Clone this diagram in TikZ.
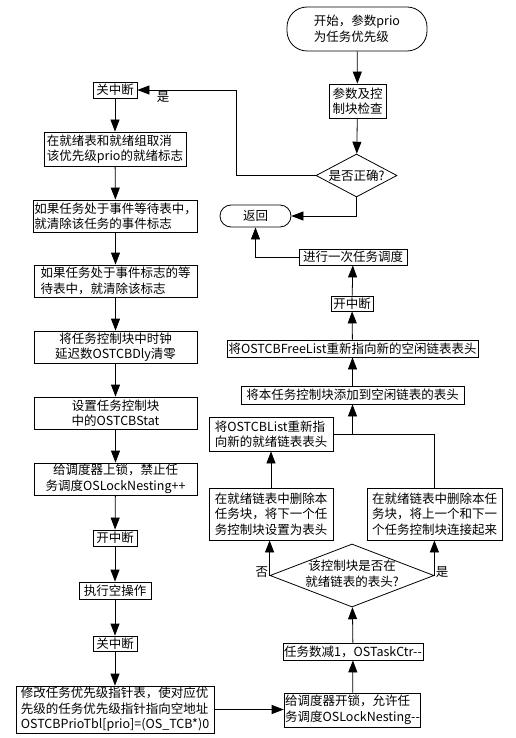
\documentclass[tikz,border=0pt]{standalone}
\usepackage{fontspec}
\setmainfont{Noto Sans CJK SC}
\usetikzlibrary{arrows.meta,shapes.geometric}

\begin{document}
\begin{tikzpicture}[x=1pt,y=1pt,line width=0.8pt,
    every node/.style={inner sep=1pt, font=\fontsize{12.5}{15.5}\selectfont},
    sz/.style 2 args={minimum width=#1pt, minimum height=#2pt},
    blk/.style={draw, rectangle},
    term/.style={draw, rectangle, rounded corners=#1pt},
    dec/.style={draw, diamond, inner sep=0pt},
    arr/.style={-{Triangle[length=12pt,width=9pt]}}]
    \useasboundingbox (0,0) rectangle (516,-738);
    % right column, top
    \node [term=20, sz={140}{44}, align=left] (start) at (357,-29) {开始，参数prio\\为任务优先级};
    \node [blk, sz={57}{34}, align=left] (check) at (357.5,-101) {参数及控\\制块检查};
    \node [dec, sz={81}{43}] (ok) at (356.5,-175.5) {\makebox[0pt]{是否正确?}};
    \node [term=11, sz={71}{22}] (ret) at (255.5,-216) {返回};
    \node [blk, sz={108}{16}] (sched) at (353,-257) {进行一次任务调度};
    \node [blk, sz={42}{15}] (kz1) at (352,-303.5) {开中断};
    \node [blk, sz={251}{17}] (free) at (352.5,-348.5) {将OSTCBFreeList重新指向新的空闲链表表头};
    \node [blk, sz={223}{18}] (add) at (352.5,-395) {将本任务控制块添加到空闲链表的表头};
    \node [blk, sz={124}{34}, align=left] (list) at (271,-434) {将OSTCBList重新指\\向新的就绪链表表头};
    \node [blk, sz={124}{52}, align=left] (delA) at (271,-514) {在就绪链表中删除本\\任务块，将下一个任\\务控制块设置为表头};
    \node [blk, sz={135}{52}, align=left] (delB) at (434.5,-514) {在就绪链表中删除本任\\务块，将上一个和下一\\个任务控制块连接起来};
    \node [dec, sz={164}{63}] (head) at (352,-575.5) {\makebox[0pt]{\begin{tabular}{@{}c@{}}该控制块是否在\\就绪链表的表头?\end{tabular}}};
    \node [blk, sz={140}{17}] (cnt) at (353,-651.5) {任务数减1，OSTaskCtr-{}-};
    \node [blk, sz={133}{34}, align=left] (unlock) at (352.5,-710) {给调度器开锁，允许任\\务调度OSLockNesting-{}-};
    % left column
    \node [blk, sz={44}{16}] (gz1) at (115,-90) {关中断};
    \node [blk, sz={142}{34}, align=left] (clr) at (115,-149) {在就绪表和就绪组取消\\该优先级prio的就绪标志};
    \node [blk, sz={163}{32}, align=left, inner xsep=0.5pt] (evw) at (115.5,-216) {如果任务处于事件等待表中，\\就清除该任务的事件标志};
    \node [blk, sz={163}{32}, align=left, inner xsep=0.5pt] (evf) at (115.5,-281) {如果任务处于事件标志的等\\待表中，就清除该标志};
    \node [blk, sz={163}{32}, align=center] (dly) at (115.5,-347) {将任务控制块中时钟\\延迟数OSTCBDly清零};
    \node [blk, sz={163}{32}, align=center] (stat) at (115.5,-413) {设置任务控制块\\中的OSTCBStat};
    \node [blk, sz={163}{32}, align=center] (lock) at (115.5,-479) {给调度器上锁，禁止任\\务调度OSLockNesting++};
    \node [blk, sz={44}{16}] (kz2) at (115,-538) {开中断};
    \node [blk, sz={72}{17}] (nop) at (115,-590.5) {执行空操作};
    \node [blk, sz={44}{15}] (gz2) at (115,-643.5) {关中断};
    \node [blk, sz={198}{47}, align=left] (prio) at (115,-709.5) {修改任务优先级指针表，使对应优\\先级的任务优先级指针指向空地址\\OSTCBPrioTbl[prio]=(OS\_TCB*)0};
    % connectors
    \draw [arr] (start) -- (check);
    \draw [arr] (check) -- (ok);
    \draw [arr] (ok.west) -- ++(-79,0) |- (gz1.east) node [pos=0.87, below] {是};
    \draw [arr] (ok.south) |- (ret.east);
    \draw [arr] (sched.west) -| (ret.south);
    \draw [arr] (kz1) -- (sched);
    \draw [arr] (free) -- (kz1);
    \draw [arr] (add) -- (free);
    \draw (list.east) -| (delB.north);
    \draw [arr] (add.south |- list.east) -- (add.south);
    \draw [arr] (delA) -- (list);
    \draw [arr] (head.west) -- (head.west |- delA.south) node [pos=0.1, left] {否};
    \draw [arr] (head.east) -- (head.east |- delB.south) node [pos=0.1, right] {是};
    \draw [arr] (cnt) -- (head);
    \draw [arr] (unlock) -- (cnt);
    \draw [arr] (prio.east) -- (unlock.west |- prio.east);
    \draw [arr] (gz1) -- (clr);
    \draw [arr] (clr) -- (evw);
    \draw [arr] (evw) -- (evf);
    \draw [arr] (evf) -- (dly);
    \draw [arr] (dly) -- (stat);
    \draw [arr] (stat) -- (lock);
    \draw [arr] (lock) -- (kz2);
    \draw [arr] (kz2) -- (nop);
    \draw [arr] (nop) -- (gz2);
    \draw [arr] (gz2) -- (prio);
\end{tikzpicture}
\end{document}
